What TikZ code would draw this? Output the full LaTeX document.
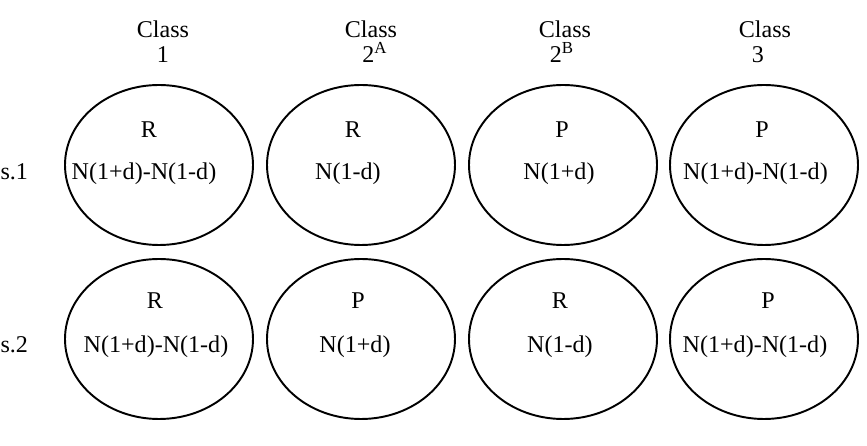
\documentclass[tikz,border=0pt]{standalone}
\usepackage{fontspec}
\setmainfont{Liberation Serif}
\usetikzlibrary{shapes.geometric, positioning, calc}

\tikzset{
  cell/.style={draw, ellipse, minimum width=3.76cm, minimum height=3.2cm, inner sep=0pt},
  lbl/.style={anchor=base, inner sep=0pt}
}

\begin{document}
\begin{tikzpicture}[font=\fontsize{13.7}{16}\selectfont, line width=1.1pt]
  \useasboundingbox (0,0) rectangle (17.34,8.92);

  % Class headings
  \foreach \x/\nx/\num [count=\i] in {3.26/3.26/1, 7.42/7.50/{2\textsuperscript{A}}, 11.30/11.24/{2\textsuperscript{B}}, 15.30/15.16/3} {
    \node[lbl] (class\i) at (\x,8.16) {Class};
    \node[lbl] (num\i) at (\nx,7.66) {\num};
  }

  % Ellipses (two rows)
  \foreach \x [count=\i] in {3.18, 7.22, 11.26, 15.28} {
    \node[cell] (a\i) at (\x,5.62) {};
    \node[cell] (b\i) at (\x,2.14) {};
  }

  % Row 1 texts
  \foreach \tx/\t/\nx/\n [count=\i] in {2.98/R/2.88/{N(1+d)-N(1-d)}, 7.06/R/6.96/{N(1-d)}, 11.24/P/11.18/{N(1+d)}, 15.24/P/15.11/{N(1+d)-N(1-d)}} {
    \node[lbl] (ta\i) at (\tx,6.16) {\t};
    \node[lbl] (na\i) at (\nx,5.32) {\n};
  }

  % Row 2 texts
  \foreach \tx/\t/\nx/\n [count=\i] in {3.10/R/3.12/{N(1+d)-N(1-d)}, 7.16/P/7.10/{N(1+d)}, 11.20/R/11.20/{N(1-d)}, 15.36/P/15.10/{N(1+d)-N(1-d)}} {
    \node[lbl] (tb\i) at (\tx,2.74) {\t};
    \node[lbl] (nb\i) at (\nx,1.86) {\n};
  }

  % Row labels
  \node[lbl, anchor=base east] (row1) at (0.58,5.32) {s.1};
  \node[lbl, anchor=base east] (row2) at (0.58,1.86) {s.2};
\end{tikzpicture}
\end{document}
